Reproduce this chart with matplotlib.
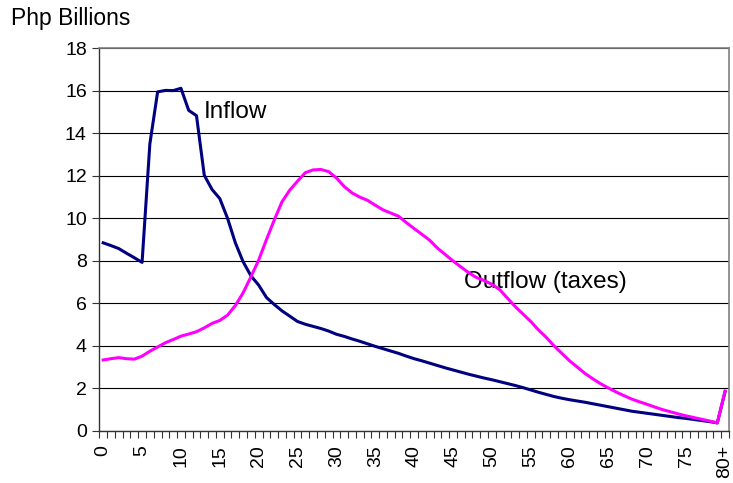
import matplotlib
matplotlib.use("Agg")
import matplotlib.pyplot as plt
import numpy as np

categories = [str(i) for i in range(80)] + ["80+"]
tick_labels = ["0", "5", "10", "15", "20", "25", "30", "35", "40", "45",
               "50", "55", "60", "65", "70", "75", "80+"]

inflow = [8.85, 8.72, 8.58, 8.36, 8.15, 7.93, 13.5, 15.95, 16.02, 16.01,
          16.12, 15.08, 14.83, 12.03, 11.36, 10.93, 10.0, 8.85, 7.96, 7.3,
          6.86, 6.28, 5.95, 5.65, 5.4, 5.15, 5.02, 4.92, 4.82, 4.7,
          4.55, 4.45, 4.33, 4.22, 4.1, 3.98, 3.87, 3.76, 3.65, 3.52,
          3.4, 3.3, 3.19, 3.08, 2.97, 2.87, 2.77, 2.67, 2.58, 2.49,
          2.41, 2.32, 2.23, 2.14, 2.04, 1.93, 1.82, 1.72, 1.62, 1.54,
          1.47, 1.41, 1.35, 1.28, 1.21, 1.14, 1.07, 1.0, 0.93, 0.88,
          0.83, 0.78, 0.73, 0.68, 0.63, 0.59, 0.54, 0.49, 0.44, 0.38,
          1.85]

outflow = [3.34, 3.4, 3.45, 3.4, 3.38, 3.52, 3.75, 3.95, 4.15, 4.3,
           4.46, 4.56, 4.67, 4.85, 5.06, 5.2, 5.45, 5.9, 6.5, 7.25,
           8.04, 9.0, 9.92, 10.78, 11.33, 11.75, 12.15, 12.28, 12.3, 12.2,
           11.9, 11.5, 11.2, 11.0, 10.85, 10.62, 10.4, 10.25, 10.1, 9.8,
           9.52, 9.25, 8.97, 8.6, 8.3, 8.0, 7.72, 7.45, 7.22, 7.08,
           6.9, 6.65, 6.25, 5.85, 5.5, 5.15, 4.75, 4.4, 4.0, 3.65,
           3.3, 3.0, 2.7, 2.45, 2.22, 2.02, 1.83, 1.66, 1.5, 1.37,
           1.25, 1.12, 1.0, 0.9, 0.8, 0.71, 0.63, 0.55, 0.47, 0.38,
           1.88]

plt.rcParams['font.family'] = ['Liberation Sans', 'DejaVu Sans']

fig = plt.figure(figsize=(7.33, 4.83), dpi=100)
ax = fig.add_axes([0.1355, 0.1077, 0.9945 - 0.1355, 0.9 - 0.1077])

x = np.arange(len(categories))
ax.plot(x, inflow, color='#000080', lw=2.2, zorder=3, solid_joinstyle='round')
ax.plot(x, outflow, color='#FF00FF', lw=2.2, zorder=4, solid_joinstyle='round')

ax.set_xlim(-0.5, len(categories) - 0.5)
ax.set_ylim(0, 18)
ax.set_yticks(np.arange(0, 19, 2))
ax.yaxis.grid(True, color='black', lw=0.8)
ax.set_axisbelow(True)

major_pos = [categories.index(t) for t in tick_labels]
ax.set_xticks(major_pos)
ax.set_xticklabels(tick_labels, rotation=90, fontsize=14)
ax.set_xticks(np.arange(-0.5, len(categories), 1.0), minor=True)
ax.tick_params(axis='x', which='major', length=0, pad=10)
ax.tick_params(axis='x', which='minor', length=5, width=0.8, color='#333333', direction='out')
ax.tick_params(axis='y', labelsize=14, length=5, width=0.8, color='#333333', pad=4)

for s in ['top', 'right']:
    ax.spines[s].set_color('#808080')
    ax.spines[s].set_linewidth(1.2)
for s in ['left', 'bottom']:
    ax.spines[s].set_color('#333333')
    ax.spines[s].set_linewidth(1.0)

ax.text(12.9, 15.0, "Inflow", fontsize=17.5, va='center', ha='left')
ax.text(46.4, 7.0, "Outflow (taxes)", fontsize=17.5, va='center', ha='left')
fig.text(11 / 733, 1 - 18 / 483, "Php Billions", fontsize=16.5, va='center', ha='left')

fig.savefig("out.png", dpi=100, facecolor='white')
